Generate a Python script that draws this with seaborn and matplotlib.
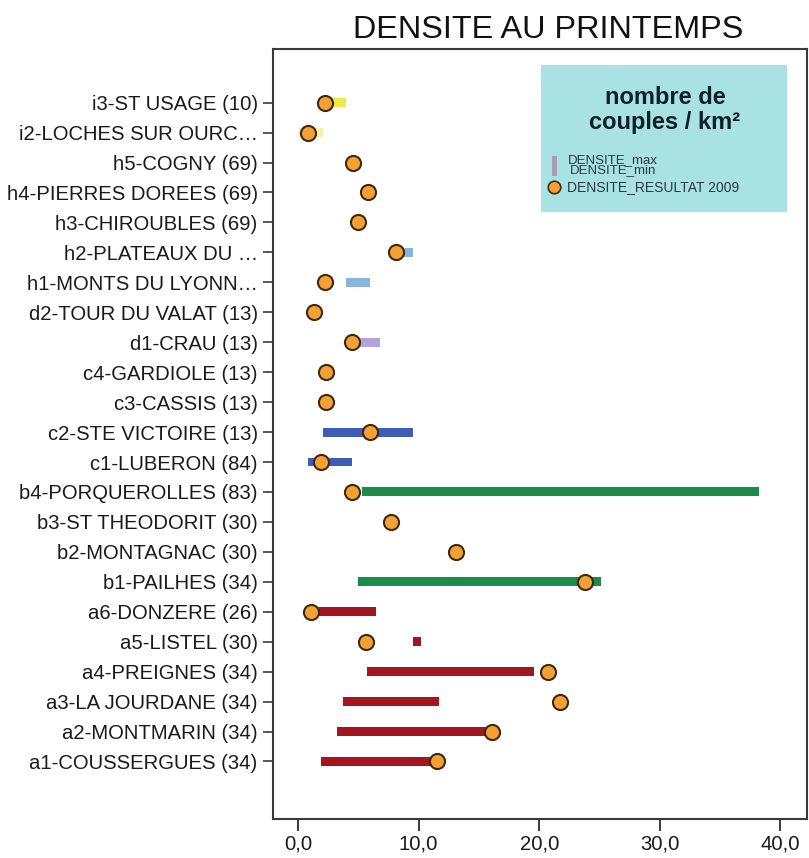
import numpy as np
import pandas as pd
import matplotlib
matplotlib.use("Agg")
import matplotlib.pyplot as plt
from matplotlib.patches import Rectangle
from matplotlib.lines import Line2D
from matplotlib.ticker import FuncFormatter
import seaborn as sns

sns.set_theme(style="white")
plt.rcParams['font.family'] = ['Liberation Sans', 'DejaVu Sans']

# sites listed from bottom (a1) to top (i3)
sites = [
    "a1-COUSSERGUES (34)", "a2-MONTMARIN (34)", "a3-LA JOURDANE (34)",
    "a4-PREIGNES (34)", "a5-LISTEL (30)", "a6-DONZERE (26)",
    "b1-PAILHES (34)", "b2-MONTAGNAC (30)", "b3-ST THEODORIT (30)",
    "b4-PORQUEROLLES (83)", "c1-LUBERON (84)", "c2-STE VICTOIRE (13)",
    "c3-CASSIS (13)", "c4-GARDIOLE (13)", "d1-CRAU (13)",
    "d2-TOUR DU VALAT (13)", "h1-MONTS DU LYONN\u2026", "h2-PLATEAUX DU \u2026",
    "h3-CHIROUBLES (69)", "h4-PIERRES DOREES (69)", "h5-COGNY (69)",
    "i2-LOCHES SUR OURC\u2026", "i3-ST USAGE (10)",
]
dens_min = [1.9, 3.2, 3.7, 5.7, 9.5, 1.2,
            5.0, np.nan, np.nan, 5.3, 0.85, 2.05,
            np.nan, np.nan, 4.8, np.nan, 4.0, 8.0,
            np.nan, np.nan, np.nan, 0.1, 2.0]
dens_max = [11.2, 16.0, 11.7, 19.6, 10.2, 6.5,
            25.1, np.nan, np.nan, 38.2, 4.5, 9.5,
            np.nan, np.nan, 6.8, np.nan, 6.0, 9.5,
            np.nan, np.nan, np.nan, 2.1, 4.0]
resultat_2009 = [11.5, 16.1, 21.75, 20.7, 5.6, 1.1,
                 23.8, 13.1, 7.7, 4.5, 1.9, 6.0,
                 2.3, 2.3, 4.5, 1.3, 2.2, 8.1,
                 5.0, 5.8, 4.6, 0.8, 2.2]

# one colour per region group
group_colors = {"a": "#A3161F", "b": "#1C8A4B", "c": "#3D5DB6",
                "d": "#B2A3DA", "h": "#88B4DE", "i": "#EDEB45"}

df = pd.DataFrame({"site": sites, "dmin": dens_min, "dmax": dens_max,
                   "res": resultat_2009})
df["pos"] = np.arange(len(df))
df["color"] = [group_colors[s[0]] for s in sites]
df.loc[df["site"].str.startswith("i2"), "color"] = "#F6F2A8"

fig = plt.figure(figsize=(8.09, 8.58), dpi=100)
ax = fig.add_axes([273 / 809, 1 - 819 / 858, 534 / 809, 770 / 858])

bars = df.dropna(subset=["dmin", "dmax"])
ax.barh(bars["pos"], bars["dmax"] - bars["dmin"], left=bars["dmin"],
        height=0.3, color=bars["color"], linewidth=0, zorder=2)

sns.scatterplot(data=df, x="res", y="pos", ax=ax, s=118, color="#F4A032",
                edgecolor="#3B2A12", linewidth=1.5, zorder=3, legend=False)

ax.set_xlim(-2.07, 42.2)
ax.set_ylim(-1.92, len(df) - 1 + 1.79)
ax.set_xticks([0, 10, 20, 30, 40])
ax.xaxis.set_major_formatter(FuncFormatter(lambda v, p: f"{v:.1f}".replace(".", ",")))
ax.set_yticks(df["pos"])
ax.set_yticklabels(df["site"])
ax.set_xlabel("")
ax.set_ylabel("")

for sp in ax.spines.values():
    sp.set_color("#3a3a3a")
    sp.set_linewidth(1.5)
    sp.set_visible(True)
ax.tick_params(axis="x", direction="out", length=8.5, width=1.4,
               color="#3a3a3a", labelsize=14.6, pad=3, bottom=True,
               labelcolor="#1a1a1a")
ax.tick_params(axis="y", direction="out", length=7, width=1.2,
               color="#3a3a3a", labelsize=14.6, pad=4, left=True,
               labelcolor="#1a1a1a")
ax.grid(False)

fig.text(548 / 809, 1 - 30 / 858, "DENSITE AU PRINTEMPS", fontsize=23.3,
         ha="center", va="center", color="#111111")

# legend box
bx0, bx1 = (541 - 273) / 534, (787 - 273) / 534
by0, by1 = (819 - 212) / 770, (819 - 65) / 770
ax.add_patch(Rectangle((bx0, by0), bx1 - bx0, by1 - by0, transform=ax.transAxes,
                       facecolor="#A8E2E2", edgecolor="none", zorder=4))


def fy(py):
    return (819 - py) / 770


def fx(px):
    return (px - 273) / 534


ax.text(fx(665), fy(97), "nombre de", transform=ax.transAxes, ha="center",
        va="center", fontsize=17, fontweight="bold", color="#10202a", zorder=5)
ax.text(fx(665), fy(122), "couples / km\u00b2", transform=ax.transAxes,
        ha="center", va="center", fontsize=17, fontweight="bold",
        color="#10202a", zorder=5)
ax.add_patch(Rectangle((fx(552), fy(176)), fx(557) - fx(552), fy(156) - fy(176),
                       transform=ax.transAxes, facecolor="#A99AB8",
                       edgecolor="none", zorder=5))
ax.text(fx(568), fy(160), "DENSITE_max", transform=ax.transAxes, ha="left",
        va="center", fontsize=9.5, color="#2a3a44", zorder=5)
ax.text(fx(570), fy(170.5), "DENSITE_min", transform=ax.transAxes, ha="left",
        va="center", fontsize=9.5, color="#2a3a44", zorder=5)
ax.add_line(Line2D([fx(554)], [fy(187)], transform=ax.transAxes, marker="o",
                   markersize=9, markerfacecolor="#F4A032",
                   markeredgecolor="#3B2A12", markeredgewidth=1.2, zorder=5))
ax.text(fx(567), fy(187), "DENSITE_RESULTAT 2009", transform=ax.transAxes,
        ha="left", va="center", fontsize=10, color="#2a3a44", zorder=5)

fig.savefig("out.png", dpi=100, facecolor="white")
